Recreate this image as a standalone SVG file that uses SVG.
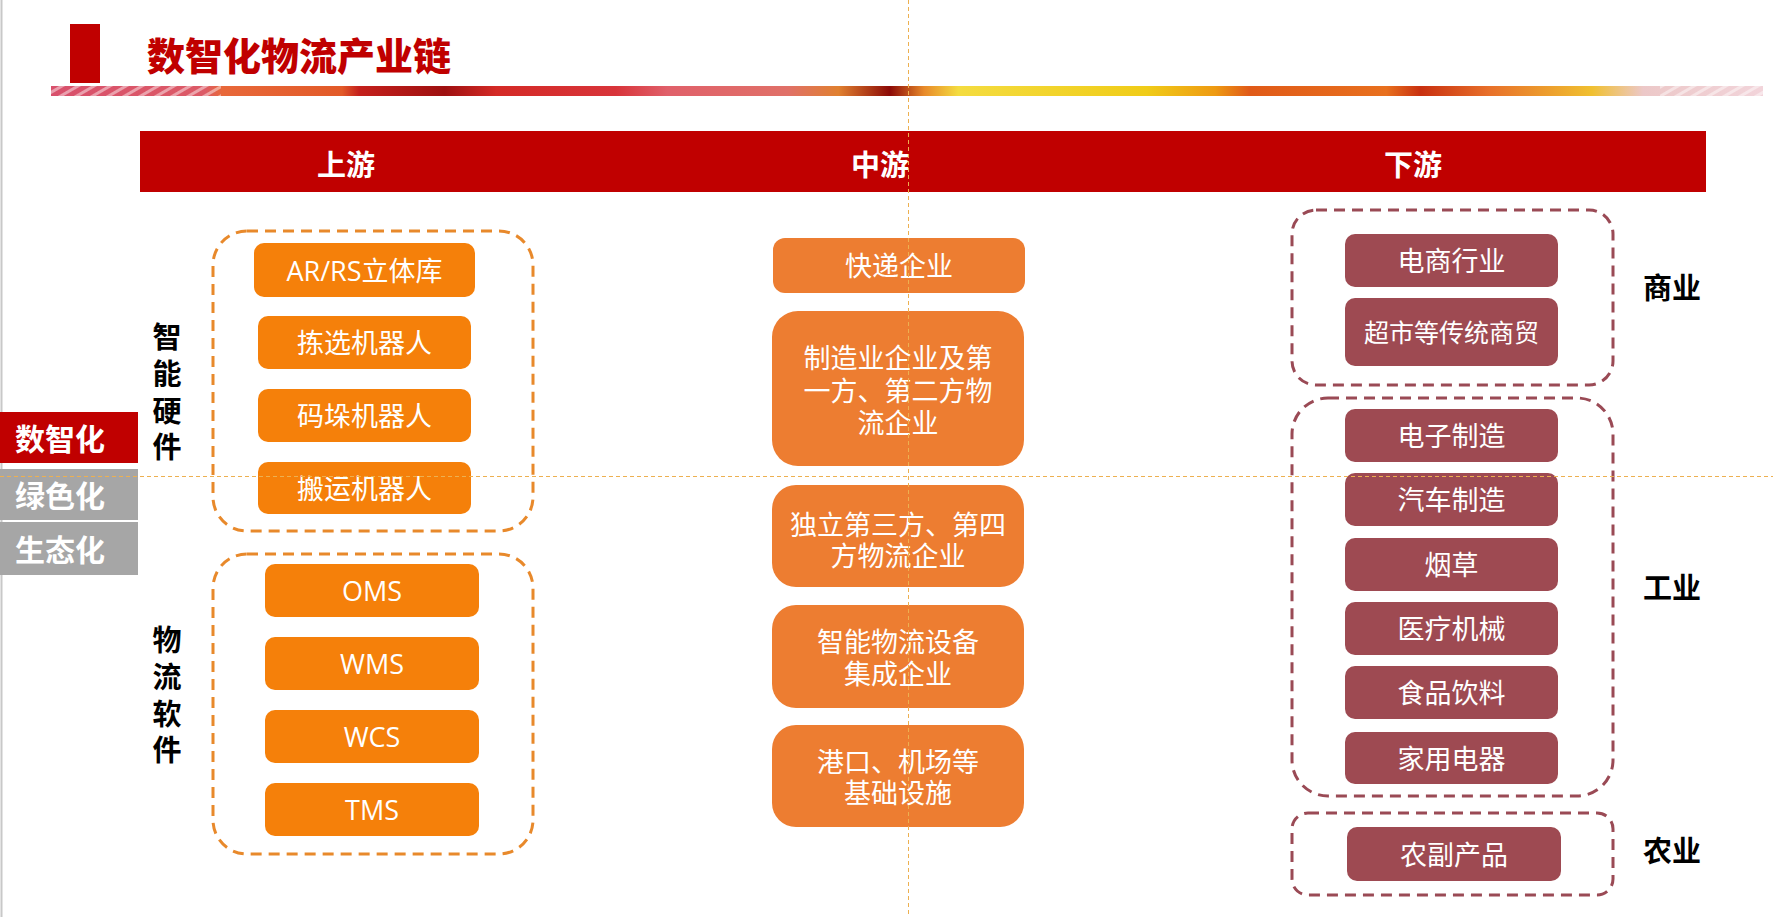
<svg xmlns="http://www.w3.org/2000/svg" width="1773" height="917" viewBox="0 0 1773 917">
  <defs>
    <linearGradient id="ribbon" x1="51" y1="0" x2="1763" y2="0" gradientUnits="userSpaceOnUse">
      <stop offset="0" stop-color="#D8506C"/>
      <stop offset="0.09" stop-color="#DC5A66"/>
      <stop offset="0.1" stop-color="#E8683A"/>
      <stop offset="0.17" stop-color="#E25A28"/>
      <stop offset="0.18" stop-color="#C4201C"/>
      <stop offset="0.23" stop-color="#9E1010"/>
      <stop offset="0.26" stop-color="#D42A26"/>
      <stop offset="0.33" stop-color="#D8343A"/>
      <stop offset="0.36" stop-color="#E0606A"/>
      <stop offset="0.43" stop-color="#E07068"/>
      <stop offset="0.46" stop-color="#E08030"/>
      <stop offset="0.49" stop-color="#8C0A06"/>
      <stop offset="0.51" stop-color="#E88A2A"/>
      <stop offset="0.53" stop-color="#F4DC40"/>
      <stop offset="0.64" stop-color="#F0CC18"/>
      <stop offset="0.68" stop-color="#EE9A12"/>
      <stop offset="0.7" stop-color="#E05A18"/>
      <stop offset="0.78" stop-color="#E8701E"/>
      <stop offset="0.8" stop-color="#C83010"/>
      <stop offset="0.84" stop-color="#E8702A"/>
      <stop offset="0.9" stop-color="#F0C030"/>
      <stop offset="0.93" stop-color="#ECC8C8"/>
      <stop offset="1" stop-color="#F2D4DA"/>
    </linearGradient>
    <pattern id="hatch" width="8" height="8" patternUnits="userSpaceOnUse" patternTransform="rotate(-30)">
      <rect width="8" height="3" fill="#FFFFFF" opacity="0.45"/>
    </pattern>
  </defs>
  <style>
    .cjk { font-family: "Noto Sans CJK SC", "Noto Sans", "Liberation Sans", sans-serif; }
    .title { font-size: 38px; font-weight: 900; fill: #C00000; }
    .head { font-size: 29px; font-weight: 700; fill: #FFFFFF; text-anchor: middle; dominant-baseline: central; }
    .tag { font-size: 30px; font-weight: 700; fill: #FFFFFF; dominant-baseline: central; }
    .side { font-size: 29px; font-weight: 700; fill: #000000; text-anchor: middle; dominant-baseline: central; }
    .lbl { font-family: "Open Sans", "Noto Sans CJK SC", sans-serif; font-size: 27px; fill: #FFFFFF; text-anchor: middle; dominant-baseline: central; }
    .up { fill: #F5800A; }
    .mid { fill: #ED7D31; }
    .down { fill: #9E4A52; }
    .grpUp { fill: none; stroke: #E8892B; stroke-width: 3; stroke-dasharray: 11 7; }
    .grpDown { fill: none; stroke: #9A4A55; stroke-width: 3; stroke-dasharray: 11 7; }
    .guide { stroke: #EDB050; stroke-width: 1; stroke-dasharray: 4 3; fill: none; }
  </style>

  <rect width="1773" height="917" fill="#FFFFFF"/>
  <line x1="1.5" y1="0" x2="1.5" y2="917" stroke="#C8C8C8" stroke-width="2"/>

  <!-- title block -->
  <g id="title">
    <rect x="70" y="24" width="30" height="59" fill="#C00000"/>
    <text class="cjk title" x="147" y="70">数智化物流产业链</text>
    <rect x="51" y="86" width="1712" height="10" fill="url(#ribbon)"/>
    <rect x="51" y="86" width="170" height="10" fill="url(#hatch)"/>
    <rect x="1660" y="86" width="103" height="10" fill="url(#hatch)"/>
  </g>

  <!-- column header band -->
  <g id="header">
    <rect x="140" y="131" width="1566" height="61" fill="#C00000"/>
    <text class="cjk head" x="346" y="163">上游</text>
    <text class="cjk head" x="880" y="163">中游</text>
    <text class="cjk head" x="1413" y="163">下游</text>
  </g>

  <!-- left tabs -->
  <g id="tab-digital">
    <rect x="0" y="412" width="138" height="51" fill="#C00000"/>
    <text class="cjk tag" x="15" y="437">数智化</text>
  </g>
  <g id="tab-green">
    <rect x="0" y="469" width="138" height="51" fill="#A6A6A6"/>
    <text class="cjk tag" x="15" y="494">绿色化</text>
  </g>
  <g id="tab-eco">
    <rect x="0" y="522" width="138" height="53" fill="#A6A6A6"/>
    <text class="cjk tag" x="15" y="548">生态化</text>
  </g>

  <!-- upstream: smart hardware -->
  <g id="hardware">
    <rect class="grpUp" x="213" y="231" width="320" height="300" rx="34"/>
    <text class="cjk side"><tspan x="167" y="335">智</tspan><tspan x="167" y="372">能</tspan><tspan x="167" y="409">硬</tspan><tspan x="167" y="445">件</tspan></text>
  </g>
  <g id="asrs">
    <rect class="up" x="254" y="243" width="221" height="54" rx="10"/>
    <text class="lbl" x="364.5" y="270">AR/RS立体库</text>
  </g>
  <g id="picking-robot">
    <rect class="up" x="258" y="316" width="213" height="53" rx="10"/>
    <text class="lbl" x="364.5" y="342.5">拣选机器人</text>
  </g>
  <g id="palletizing-robot">
    <rect class="up" x="258" y="389" width="213" height="53" rx="10"/>
    <text class="lbl" x="364.5" y="415.5">码垛机器人</text>
  </g>
  <g id="handling-robot">
    <rect class="up" x="258" y="462" width="213" height="52" rx="10"/>
    <text class="lbl" x="364.5" y="488">搬运机器人</text>
  </g>

  <!-- upstream: logistics software -->
  <g id="software">
    <rect class="grpUp" x="213" y="554" width="320" height="300" rx="34"/>
    <text class="cjk side"><tspan x="167" y="638">物</tspan><tspan x="167" y="675">流</tspan><tspan x="167" y="712">软</tspan><tspan x="167" y="748">件</tspan></text>
  </g>
  <g id="oms">
    <rect class="up" x="265" y="564" width="214" height="53" rx="10"/>
    <text class="lbl" x="372" y="590.5">OMS</text>
  </g>
  <g id="wms">
    <rect class="up" x="265" y="637" width="214" height="53" rx="10"/>
    <text class="lbl" x="372" y="663.5">WMS</text>
  </g>
  <g id="wcs">
    <rect class="up" x="265" y="710" width="214" height="53" rx="10"/>
    <text class="lbl" x="372" y="736.5">WCS</text>
  </g>
  <g id="tms">
    <rect class="up" x="265" y="783" width="214" height="53" rx="10"/>
    <text class="lbl" x="372" y="809.5">TMS</text>
  </g>

  <!-- midstream -->
  <g id="express">
    <rect class="mid" x="773" y="238" width="252" height="55" rx="12"/>
    <text class="lbl" x="899" y="265.5">快递企业</text>
  </g>
  <g id="manufacturer-logistics">
    <rect class="mid" x="772" y="311" width="252" height="155" rx="26"/>
    <text class="lbl"><tspan x="898" y="357">制造业企业及第</tspan><tspan x="898" y="390">一方、第二方物</tspan><tspan x="898" y="422">流企业</tspan></text>
  </g>
  <g id="third-party">
    <rect class="mid" x="772" y="485" width="252" height="102" rx="24"/>
    <text class="lbl"><tspan x="898" y="524">独立第三方、第四</tspan><tspan x="898" y="555">方物流企业</tspan></text>
  </g>
  <g id="integrator">
    <rect class="mid" x="772" y="605" width="252" height="103" rx="24"/>
    <text class="lbl"><tspan x="898" y="641">智能物流设备</tspan><tspan x="898" y="673">集成企业</tspan></text>
  </g>
  <g id="infrastructure">
    <rect class="mid" x="772" y="725" width="252" height="102" rx="24"/>
    <text class="lbl"><tspan x="898" y="761">港口、机场等</tspan><tspan x="898" y="792">基础设施</tspan></text>
  </g>

  <!-- downstream: commerce -->
  <g id="commerce">
    <rect class="grpDown" x="1292" y="210" width="321" height="175" rx="24"/>
    <text class="cjk side" x="1672" y="286">商业</text>
  </g>
  <g id="ecommerce">
    <rect class="down" x="1345" y="234" width="213" height="53" rx="10"/>
    <text class="lbl" x="1451.5" y="260.5">电商行业</text>
  </g>
  <g id="retail">
    <rect class="down" x="1345" y="298" width="213" height="68" rx="10"/>
    <text class="lbl" x="1451.5" y="332" style="font-size:25px">超市等传统商贸</text>
  </g>

  <!-- downstream: industry -->
  <g id="industry">
    <rect class="grpDown" x="1292" y="398" width="321" height="398" rx="36"/>
    <text class="cjk side" x="1672" y="586">工业</text>
  </g>
  <g id="electronics">
    <rect class="down" x="1345" y="409" width="213" height="53" rx="10"/>
    <text class="lbl" x="1451.5" y="435.5">电子制造</text>
  </g>
  <g id="automotive">
    <rect class="down" x="1345" y="473" width="213" height="53" rx="10"/>
    <text class="lbl" x="1451.5" y="499.5">汽车制造</text>
  </g>
  <g id="tobacco">
    <rect class="down" x="1345" y="538" width="213" height="53" rx="10"/>
    <text class="lbl" x="1451.5" y="564.5">烟草</text>
  </g>
  <g id="medical">
    <rect class="down" x="1345" y="602" width="213" height="53" rx="10"/>
    <text class="lbl" x="1451.5" y="628.5">医疗机械</text>
  </g>
  <g id="food">
    <rect class="down" x="1345" y="666" width="213" height="53" rx="10"/>
    <text class="lbl" x="1451.5" y="692.5">食品饮料</text>
  </g>
  <g id="appliances">
    <rect class="down" x="1345" y="732" width="213" height="52" rx="10"/>
    <text class="lbl" x="1451.5" y="758">家用电器</text>
  </g>

  <!-- downstream: agriculture -->
  <g id="agriculture">
    <rect class="grpDown" x="1292" y="813" width="321" height="82" rx="16"/>
    <text class="cjk side" x="1672" y="849">农业</text>
  </g>
  <g id="agri-products">
    <rect class="down" x="1347" y="827" width="214" height="54" rx="10"/>
    <text class="lbl" x="1454" y="854">农副产品</text>
  </g>

  <!-- connectors: none drawn; layout guides only -->
  <g id="connectors">
    <line class="guide" x1="908.5" y1="0" x2="908.5" y2="917"/>
    <line class="guide" x1="0" y1="476.5" x2="1773" y2="476.5"/>
  </g>
</svg>
